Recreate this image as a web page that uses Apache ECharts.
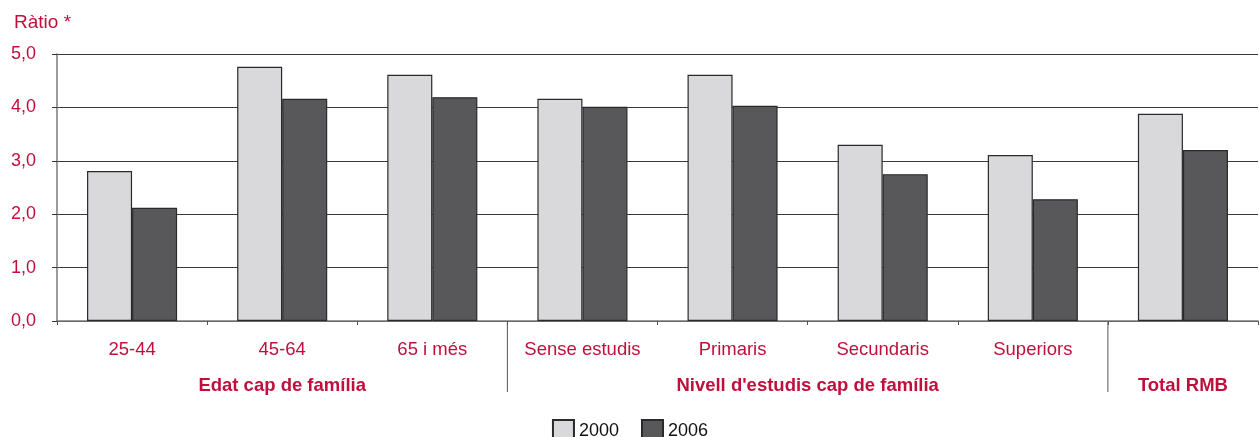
<!DOCTYPE html>
<html>
<head>
<meta charset="utf-8">
<script src="https://cdn.jsdelivr.net/npm/echarts@6/dist/echarts.min.js"></script>
<style>
  html, body { margin: 0; padding: 0; background: #fff; }
  #ec { width: 1260px; height: 437px; }
</style>
</head>
<body>
<div id="ec"></div>
<script>
const categories = ['25-44', '45-64', '65 i més', 'Sense estudis', 'Primaris', 'Secundaris', 'Superiors', '']
const values2000 = [2.81, 4.76, 4.61, 4.16, 4.61, 3.30, 3.11, 3.88]
const values2006 = [2.12, 4.16, 4.19, 4.01, 4.03, 2.75, 2.28, 3.20]
// groups: label, first category index, last category index
const groups = [
  ['Edat cap de família', 0, 2],
  ["Nivell d'estudis cap de família", 3, 6],
  ['Total RMB', 7, 7]
]

const red = '#c10f3d'
const font = '"Liberation Sans", Arial, sans-serif'

const chart = echarts.init(document.getElementById('ec'))

chart.setOption({
  animation: false,
  textStyle: { fontFamily: font },
  title: {
    text: 'Ràtio *',
    left: 9,
    top: 8,
    textStyle: { color: red, fontSize: 19, fontWeight: 'normal', fontFamily: font }
  },
  legend: {
    left: 'center',
    top: 414,
    itemWidth: 21,
    itemHeight: 22,
    itemGap: 22,
    icon: 'rect',
    selectedMode: false,
    textStyle: { color: '#111', fontSize: 18, fontFamily: font }
  },
  grid: { left: 57, right: 2, top: 54, bottom: 116 },
  xAxis: {
    type: 'category',
    data: categories,
    axisLine: { lineStyle: { color: '#7a7a7a', width: 1.5 } },
    axisTick: { show: true, interval: 0, length: 4, lineStyle: { color: '#555' } },
    axisLabel: { interval: 0, hideOverlap: false, color: red, fontSize: 18.5, margin: 19, fontFamily: font }
  },
  yAxis: {
    type: 'value',
    min: 0,
    max: 5,
    interval: 1,
    axisLine: { show: true, lineStyle: { color: '#7a7a7a', width: 1.5 } },
    axisTick: { show: true, length: 5, lineStyle: { color: '#333' } },
    splitLine: { lineStyle: { color: '#3a3a3a', width: 1.2 } },
    axisLabel: {
      color: red,
      fontSize: 18,
      margin: 21,
      fontFamily: font,
      formatter: v => v.toFixed(1).replace('.', ',')
    }
  },
  series: [
    {
      name: '2000',
      type: 'bar',
      data: values2000,
      barGap: '0%',
      barCategoryGap: '40%',
      itemStyle: { color: '#d9d9db', borderColor: '#2a2a2a', borderWidth: 1.2 }
    },
    {
      name: '2006',
      type: 'bar',
      data: values2006,
      itemStyle: { color: '#58585a', borderColor: '#2a2a2a', borderWidth: 1.2 }
    }
  ]
})

// group labels and separators, placed from the category axis
const half = (chart.convertToPixel({ xAxisIndex: 0 }, 1) - chart.convertToPixel({ xAxisIndex: 0 }, 0)) / 2
const baseY = chart.convertToPixel({ yAxisIndex: 0 }, 0)
const elements = []
groups.forEach(([label, a, b], i) => {
  const x0 = chart.convertToPixel({ xAxisIndex: 0 }, a) - half
  const x1 = chart.convertToPixel({ xAxisIndex: 0 }, b) + half
  elements.push({
    type: 'text',
    x: (x0 + x1) / 2,
    y: baseY + 65,
    style: {
      text: label,
      fill: red,
      font: 'bold 18.5px ' + font,
      align: 'center',
      verticalAlign: 'middle'
    }
  })
  if (i > 0) {
    elements.push({
      type: 'line',
      shape: { x1: x0, y1: baseY, x2: x0, y2: baseY + 71 },
      style: { stroke: '#555', lineWidth: 1 }
    })
  }
})
chart.setOption({ graphic: elements })
</script>
</body>
</html>
